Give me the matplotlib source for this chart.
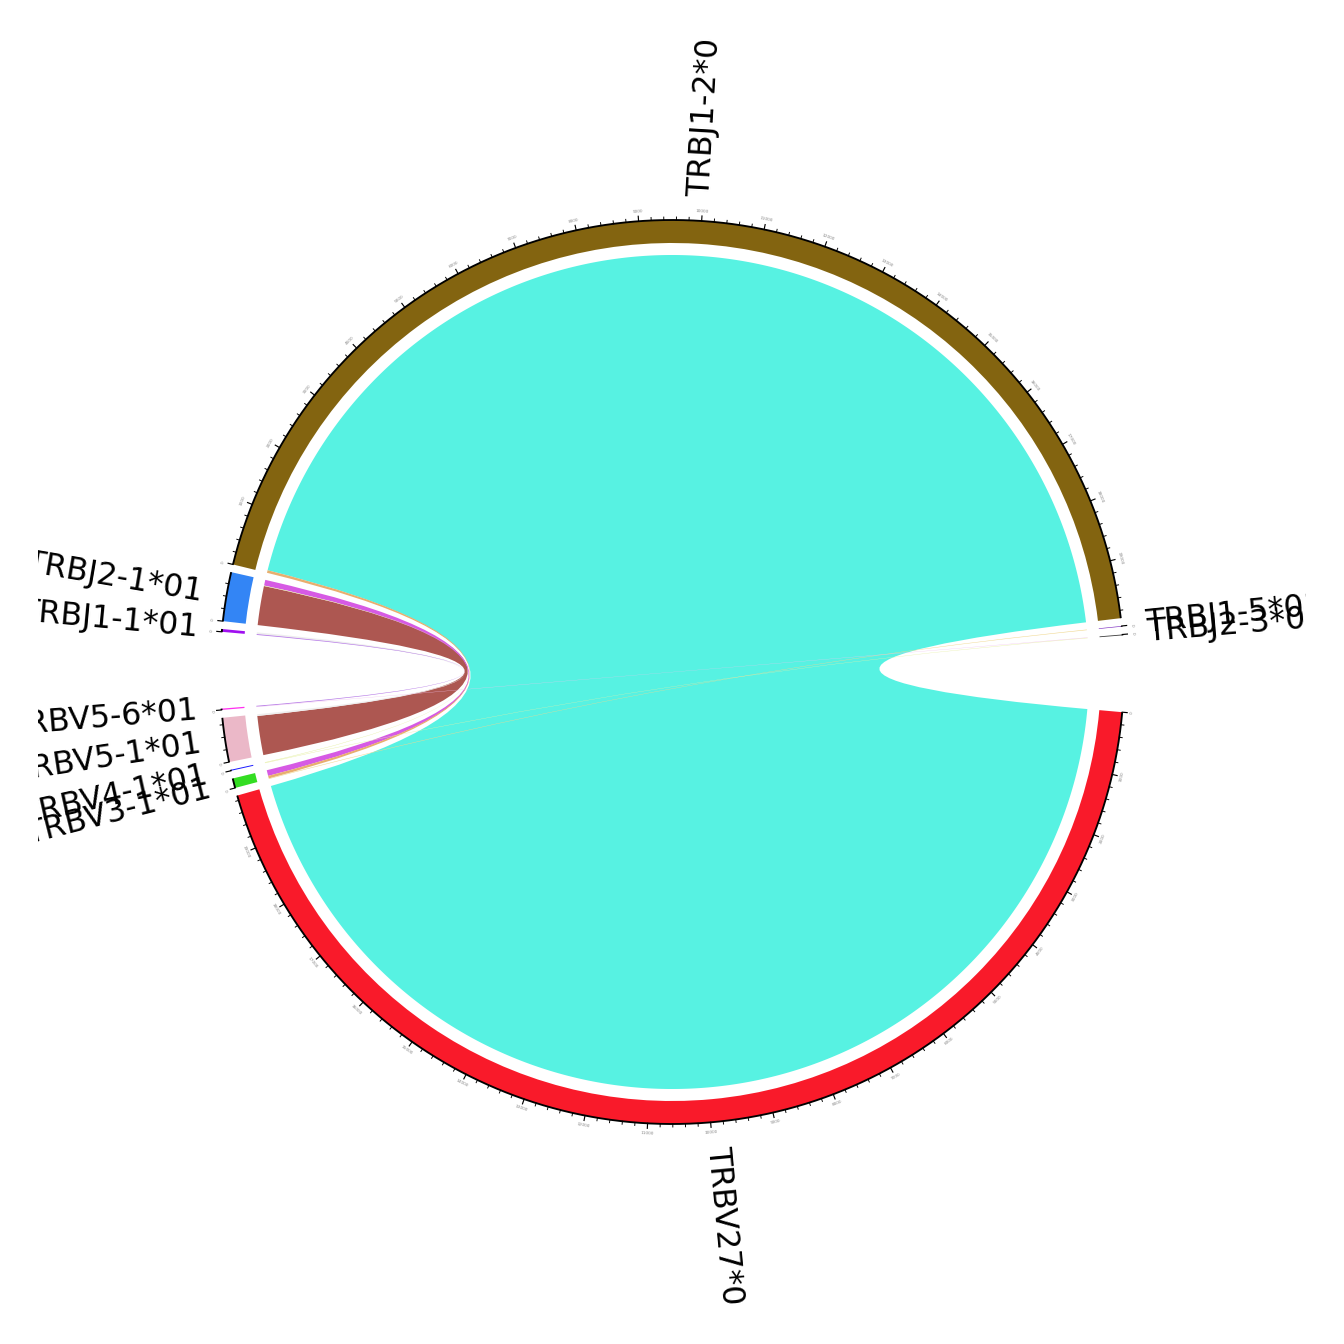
import numpy as np
import matplotlib
matplotlib.use('Agg')
import matplotlib.pyplot as plt
from matplotlib.path import Path
from matplotlib.patches import PathPatch, Wedge

# 扇区名称：行为V基因，列为J基因
v_names = ['TRBV27*01', 'TRBV3-1*01', 'TRBV4-1*01', 'TRBV5-1*01', 'TRBV5-6*01']
j_names = ['TRBJ1-1*01', 'TRBJ2-1*01', 'TRBJ1-2*01', 'TRBJ1-5*01', 'TRBJ2-3*01']

# V-J 配对计数（行 V，列 J）
counts = [
    [0, 0, 19880, 0, 0],
    [0, 100, 45, 10, 0],
    [0, 8, 0, 0, 8],
    [30, 680, 0, 0, 0],
    [15, 0, 0, 0, 6],
]

sector_colors = ['#f91a2a', '#33dd22', '#1a1aff', '#ebb8c8', '#ff30f0',
                 '#a010f0', '#3385f5', '#836410', '#7b2bbf', '#404040']

link_colors = {
    (0, 2): '#57f2e2',
    (1, 1): '#d65ae4',
    (1, 2): '#e8ae6e',
    (1, 3): '#f0d890',
    (2, 1): '#e4f0a0',
    (2, 4): '#e8f0a8',
    (3, 0): '#eeeeee',
    (3, 1): '#ad5751',
    (4, 0): '#b67be6',
    (4, 4): '#f4c4f0',
}

R_OUT, R_IN, R_LINK = 452, 429, 417
START = 95.1       # 第一个扇区起始角（顺时针，0 在正上方）
SMALL_GAP, BIG_GAP = 1.0, 9.75

mat = np.array(counts)
names = v_names + j_names
sizes = list(mat.sum(axis=1)) + list(mat.sum(axis=0))
gaps = [SMALL_GAP] * 10
gaps[4] = BIG_GAP
gaps[9] = BIG_GAP
k = (360 - sum(gaps)) / sum(sizes)

# 计算每个扇区的起止角度
pos = []
a = START
for s, g in zip(sizes, gaps):
    pos.append((a, a + s * k))
    a += s * k + g


def xy(c, r):
    t = np.deg2rad(c)
    return r * np.sin(t), r * np.cos(t)


def arc(c0, c1, r):
    cs = np.linspace(c0, c1, max(int(abs(c1 - c0) * 4), 2))
    t = np.deg2rad(cs)
    return np.column_stack([r * np.sin(t), r * np.cos(t)])


# 连线在每个扇区中的位置（伙伴按反向顺序排列）
link_pos = {}
for i in range(5):
    c = pos[i][0]
    for j in reversed(range(5)):
        if mat[i, j] > 0:
            link_pos[('v', i, j)] = (c, c + mat[i, j] * k)
            c += mat[i, j] * k
for j in range(5):
    c = pos[5 + j][0]
    for i in reversed(range(5)):
        if mat[i, j] > 0:
            link_pos[('j', i, j)] = (c, c + mat[i, j] * k)
            c += mat[i, j] * k

fig = plt.figure(figsize=(8, 8), dpi=168)
ax = fig.add_axes([38 / 1344, 38 / 1344, 1268 / 1344, 1268 / 1344])
ax.set_xlim(-634, 634)
ax.set_ylim(-634, 634)
ax.set_aspect('equal')
ax.axis('off')

# 扇区色带
for (c0, c1), col in zip(pos, sector_colors):
    ax.add_patch(Wedge((0, 0), R_OUT, 90 - c1, 90 - c0, width=R_OUT - R_IN,
                       facecolor=col, edgecolor='none', lw=0))
    line = arc(c0, c1, R_OUT)
    ax.plot(line[:, 0], line[:, 1], color='black', lw=0.8, solid_capstyle='butt')

# 刻度
for (c0, c1), s in zip(pos, sizes):
    for v in range(0, s + 1, 200):
        c = c0 + v * k
        major = v % 1000 == 0
        ln = 5 if major else 3
        x0, y0 = xy(c, R_OUT)
        x1, y1 = xy(c, R_OUT + ln)
        ax.plot([x0, x1], [y0, y1], color='black', lw=0.5 if major else 0.4)
        if major:
            tx, ty = xy(c, R_OUT + 10)
            cc = c % 360
            rot = -cc if (cc < 90 or cc > 270) else 180 - cc
            ax.text(tx, ty, str(v), fontsize=1.8, color='#888888',
                    rotation=rot, ha='center', va='center')

# 连线（大的先画）
order = sorted(link_colors.keys(), key=lambda p: -mat[p])
for (i, j) in order:
    a0, a1 = link_pos[('v', i, j)]
    b0, b1 = link_pos[('j', i, j)]
    A = arc(a0, a1, R_LINK)
    B = arc(b0, b1, R_LINK)
    verts = list(A) + [(0, 0), tuple(B[0])] + list(B[1:]) + [(0, 0), tuple(A[0]), (0, 0)]
    codes = ([Path.MOVETO] + [Path.LINETO] * (len(A) - 1) + [Path.CURVE3, Path.CURVE3]
             + [Path.LINETO] * (len(B) - 1) + [Path.CURVE3, Path.CURVE3, Path.CLOSEPOLY])
    ax.add_patch(PathPatch(Path(verts, codes), facecolor=link_colors[(i, j)],
                           edgecolor='none', lw=0))

# 扇区标签
for (c0, c1), name in zip(pos, names):
    c = ((c0 + c1) / 2) % 360
    x, y = xy(c, 476)
    if c <= 180:
        ax.text(x, y, name, fontsize=13.5, rotation=90 - c, rotation_mode='anchor',
                ha='left', va='center', clip_on=True)
    else:
        ax.text(x, y, name, fontsize=13.5, rotation=270 - c, rotation_mode='anchor',
                ha='right', va='center', clip_on=True)

fig.savefig('out.png', dpi=168, facecolor='white')
